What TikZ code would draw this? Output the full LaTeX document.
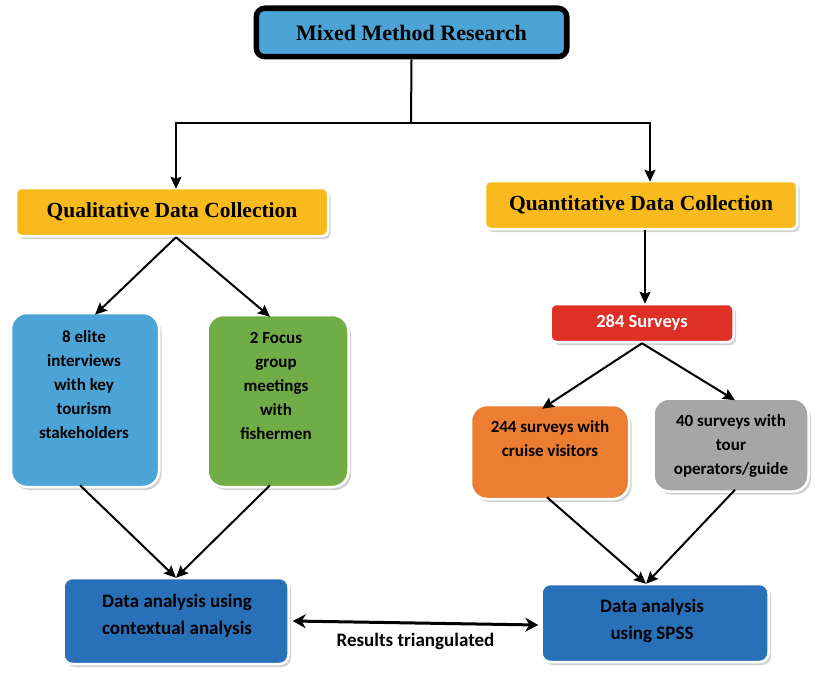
\documentclass[tikz,border=0pt]{standalone}
\usepackage{fontspec}
\setmainfont{Carlito}
\newfontfamily\headfont{Liberation Serif}
\usetikzlibrary{arrows.meta, shadows, positioning}

\definecolor{topblue}{RGB}{76,164,214}
\definecolor{headyellow}{RGB}{248,186,28}
\definecolor{eliteblue}{RGB}{76,164,214}
\definecolor{focusgreen}{RGB}{112,173,71}
\definecolor{surveyred}{RGB}{222,48,38}
\definecolor{cruiseorange}{RGB}{237,125,49}
\definecolor{tourgray}{RGB}{166,166,166}
\definecolor{resultblue}{RGB}{40,112,184}

\tikzset{
    glowbox/.style={draw=white, line width=2.5pt,
        drop shadow={shadow xshift=2.5pt, shadow yshift=-3pt, fill=black!35}},
    head/.style={glowbox, rounded corners=5pt, fill=headyellow, minimum width=312pt,
        minimum height=48pt, font=\headfont\bfseries\fontsize{21.5}{24}\selectfont},
    leaf/.style={glowbox, rounded corners=16pt},
    leaftext/.style={align=center, inner sep=0pt, font=\bfseries\fontsize{17}{24}\selectfont},
    result/.style={glowbox, rounded corners=9pt, fill=resultblue},
    resulttext/.style={align=center, inner sep=0pt, font=\bfseries\fontsize{19}{27}\selectfont},
    link/.style={draw=black, line width=2pt, -{Stealth[length=12pt, width=11pt, inset=2pt]}},
}

\newcommand{\leafbox}[7]{
    \node[leaf, fill=#5, minimum width=#3pt, minimum height=#4pt] (#1) at (#2) {};
    \node[leaftext] (#1-t) at (#6) {#7};
}

\begin{document}
\begin{tikzpicture}[x=1pt, y=-1pt]
\useasboundingbox (0,0) rectangle (816,674);

% top box
\node[draw=black, line width=5pt, rounded corners=9pt, fill=topblue, minimum width=311pt,
    minimum height=49pt, drop shadow={shadow xshift=1.5pt, shadow yshift=-2pt, fill=black!30},
    font=\headfont\bfseries\fontsize{22}{24}\selectfont] (mixed) at (411.5,32.5) {Mixed Method Research};
\draw[line width=1.3pt, rounded corners=5pt]
    ([shift={(5pt,-5pt)}]mixed.north west) rectangle ([shift={(-5pt,5pt)}]mixed.south east);

% collection boxes
\node[head] (qual) at (172,212) {Qualitative Data Collection};
\node[head] (quant) at (641,205) {Quantitative Data Collection};

% qualitative side
\leafbox{elite}{85,400}{148}{174}{eliteblue}{84,385}{8 elite\\interviews\\with key\\tourism\\stakeholders}
\leafbox{focus}{278,401}{141}{172}{focusgreen}{276,386}{2 Focus\\group\\meetings\\with\\fishermen}

% quantitative side
\node[glowbox, rounded corners=6pt, fill=surveyred, minimum width=183pt, minimum height=38pt,
    text=white, font=\bfseries\fontsize{18.5}{20}\selectfont] (survey) at (642,323) {284 Surveys};
\leafbox{cruise}{550,452}{158}{94}{cruiseorange}{550,439}{244 surveys with\\cruise visitors}
\leafbox{tour}{731,445}{155}{93}{tourgray}{731,446}{40 surveys with\\tour\\operators/guide}

% analysis
\node[result, minimum width=225pt, minimum height=86pt] (context) at (176,621) {};
\node[resulttext] (context-t) at (177,616) {Data analysis using\\contextual analysis};
\node[result, minimum width=227pt, minimum height=78pt] (spss) at (655,623) {};
\node[resulttext] (spss-t) at (652,621) {Data analysis\\using SPSS};

% connectors
\coordinate (split) at (411,123);
\draw[line width=2pt] (mixed.south) -- (split);
\draw[link] (split) -| ([xshift=4pt, yshift=-2pt]qual.north);
\draw[link] (split) -| ([xshift=9pt, yshift=-2pt]quant.north);
\draw[link] ([xshift=4pt]qual.south) -- ([xshift=10pt, yshift=-3pt]elite.north);
\draw[link] ([xshift=4pt]qual.south) -- ([xshift=-8pt, yshift=-3pt]focus.north);
\draw[link] ([xshift=4pt]quant.south) -- ([xshift=3pt, yshift=-1pt]survey.north);
\draw[link] (survey.south) -- ([xshift=-8pt, yshift=-5pt]cruise.north);
\draw[link] (survey.south) -- ([xshift=4pt, yshift=-3pt]tour.north);
\draw[link] ([xshift=-5pt, yshift=3pt]elite.south) -- ([yshift=-1pt]context.north);
\draw[link] ([xshift=-8pt, yshift=3pt]focus.south) -- ([yshift=-1pt]context.north);
\draw[link] ([xshift=-3pt, yshift=3pt]cruise.south) -- ([xshift=-9pt, yshift=-1pt]spss.north);
\draw[link] ([xshift=4pt, yshift=3pt]tour.south) -- ([xshift=-9pt, yshift=-1pt]spss.north);
\draw[line width=3pt, {Stealth[length=13pt, width=14pt]}-{Stealth[length=13pt, width=14pt]}]
    ([xshift=3pt]context.east) -- node[below=5pt, font=\bfseries\fontsize{19}{20}\selectfont] (tri) {Results triangulated} ([xshift=-2pt, yshift=-2pt]spss.west);
\end{tikzpicture}
\end{document}
